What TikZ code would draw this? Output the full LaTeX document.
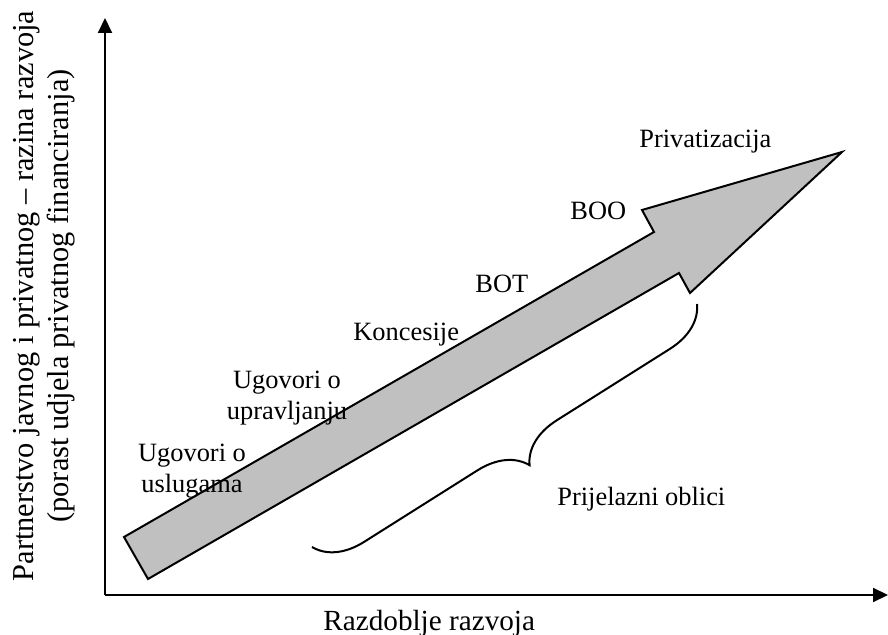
\documentclass[tikz,border=0pt]{standalone}
\usepackage{fontspec}
\setmainfont{Liberation Serif}
\usetikzlibrary{arrows.meta,decorations.pathreplacing}
\definecolor{arrowfill}{RGB}{192,192,192}
\begin{document}
\begin{tikzpicture}[x=0.5pt,y=-0.5pt,
  axis/.style={line width=1pt,-{Triangle[length=7.5pt,width=7pt]}},
  bigarrow/.style={line width=1pt,draw=black,fill=arrowfill,line join=miter},
  bracestyle/.style={line width=1pt,decorate,decoration={brace,amplitude=23.5pt}},
  lbl/.style={font=\fontsize{13.2}{15.6}\selectfont,inner sep=0pt,anchor=base west},
  lbltwo/.style={font=\fontsize{13.2}{15.6}\selectfont,inner sep=0pt,align=center,anchor=base},
  axlbl/.style={font=\fontsize{14.6}{17.5}\selectfont,inner sep=0pt}]
\useasboundingbox (0,0) rectangle (888,635);
% axes
\coordinate (O) at (105,595);
\coordinate (Ytip) at (105,18);
\coordinate (Xtip) at (888,595);
\draw[axis] (O) -- (Ytip);
\draw[axis] (O) -- (Xtip);
% big arrow
\coordinate (t1) at (124,537);
\coordinate (u1) at (654,232);
\coordinate (u2) at (642,210);
\coordinate (tip) at (842,152);
\coordinate (l2) at (690,293);
\coordinate (l1) at (679,273);
\coordinate (t2) at (148,579);
\draw[bigarrow] (t1) -- (u1) -- (u2) -- (tip) -- (l2) -- (l1) -- (t2) -- cycle;
% brace
\coordinate (b1) at (697,304);
\coordinate (b2) at (312,547);
\draw[bracestyle] (b1) -- (b2);
% labels
\node[lbl] (priv) at (639,148) {Privatizacija};
\node[lbl] (boo) at (570,220) {BOO};
\node[lbl] (bot) at (475,293) {BOT};
\node[lbl] (konc) at (353,341) {Koncesije};
\node[lbltwo] (upr) at (287,420) {Ugovori o\\upravljanju};
\node[lbltwo] (usl) at (192,493) {Ugovori o\\uslugama};
\node[lbl] (prij) at (557,505) {Prijelazni oblici};
\node[axlbl,anchor=base west] (xlab) at (323,630) {Razdoblje razvoja};
\node[axlbl,rotate=90,align=center,font=\fontsize{15.2}{17.5}\selectfont] (ylab) at (44,296) {Partnerstvo javnog i privatnog – razina razvoja\\(porast udjela privatnog financiranja)};
\end{tikzpicture}
\end{document}
